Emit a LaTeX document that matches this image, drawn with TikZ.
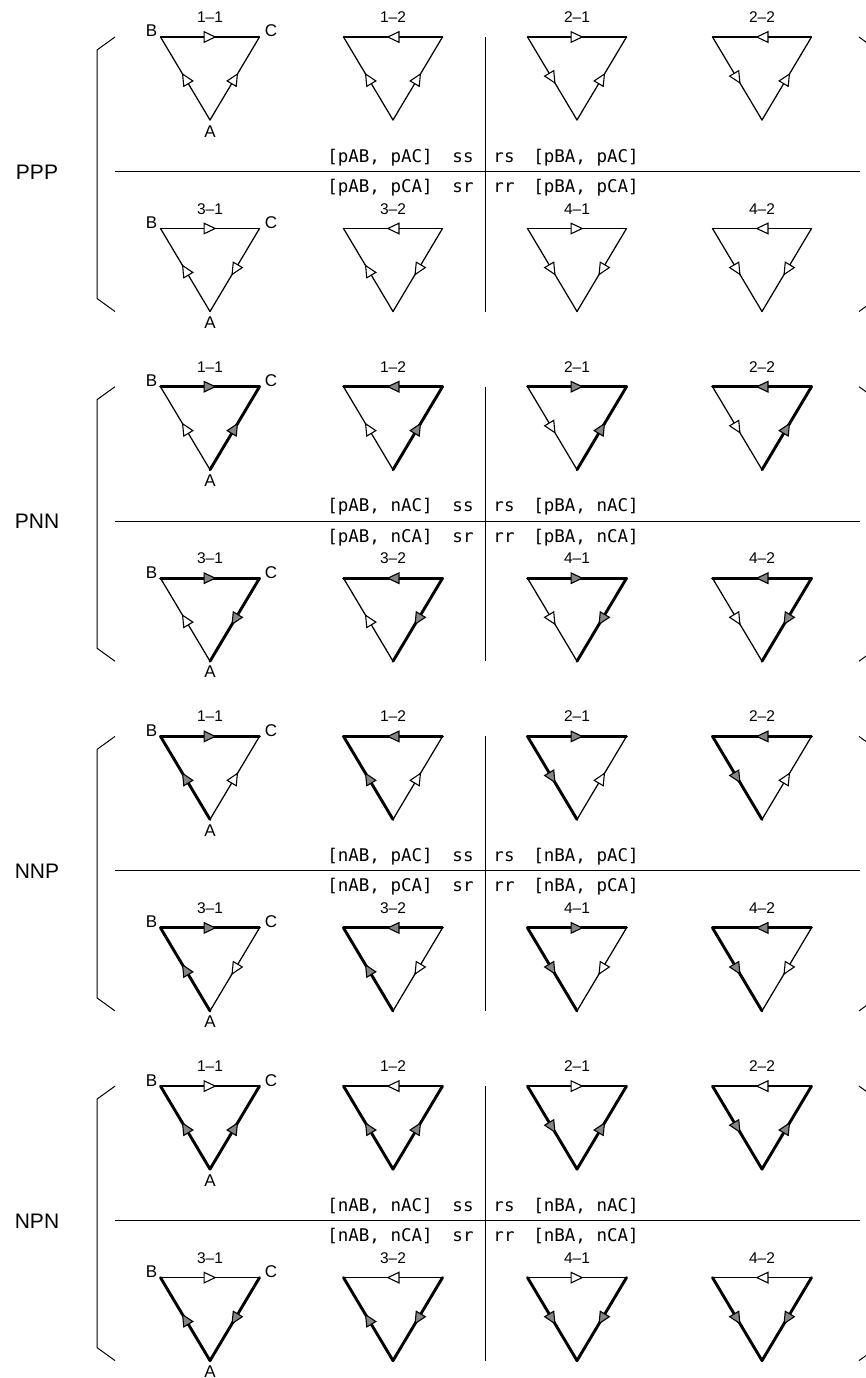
\documentclass[tikz,border=0pt]{standalone}
\usepackage{fontspec}
\setmainfont{Liberation Sans}
\newfontfamily\monof{DejaVu Sans Mono}
\usetikzlibrary{arrows.meta,decorations.markings}
\definecolor{hatch}{gray}{0.52}

\tikzset{
  % positive edge: thin line, open (white) arrowhead centred on the edge
  ep/.style={line width=1.25pt, line cap=round,
    postaction={decorate,decoration={markings,mark=at position 0.5 with
      {\pgftransformxshift{6.5pt}\arrow{Triangle[length=13pt,width=12pt,fill=white,line width=1.1pt]}}}}},
  % negative edge: heavy line, shaded arrowhead
  en/.style={line width=2.9pt, line cap=round,
    postaction={decorate,decoration={markings,mark=at position 0.5 with
      {\pgftransformxshift{6.5pt}\arrow{Triangle[length=13pt,width=12pt,fill=hatch,line width=1.1pt]}}}}},
  rule/.style={line width=1pt},
  brk/.style={line width=1pt},
  numlbl/.style={font=\fontsize{15.5}{17}\selectfont, inner sep=0, anchor=base},
  vtx/.style={font=\fontsize{17}{19}\selectfont, inner sep=0, anchor=base},
  pair/.style={font=\monof\fontsize{17.5}{20}\selectfont, inner sep=0, anchor=base},
  blk/.style={font=\fontsize{21}{24}\selectfont, inner sep=0, anchor=base},
}

% one edge: #1 polarity (p/n), #2 triangle name, #3 start vertex, #4 end vertex
\def\edgeln#1#2#3#4{\draw[e#1] (#2#3) -- (#2#4);}

% one triangle: #1 name, #2 centre x, #3 top y, #4 caption,
% #5/#6/#7 start and end vertices of the top, left and right edges
\newcommand\tri[7]{%
  \coordinate (#1B) at (#2-49.5,#3);
  \coordinate (#1C) at (#2+49.5,#3);
  \coordinate (#1A) at (#2,#3+83);
  \node[numlbl] (#1cap) at (#2,#3-14.5) {#4};
  \expandafter\edgeln\tp{#1}#5
  \expandafter\edgeln\lp{#1}#6
  \expandafter\edgeln\rp{#1}#7
}

\begin{document}
\begin{tikzpicture}[x=1pt,y=-1pt]
\useasboundingbox (0,0) rectangle (866,1378);
\clip (0,0) rectangle (866,1378);

\foreach \k/\nm/\lab/\ab/\ac/\tp/\lp/\rp in
  {0/ppp/PPP/p/p/p/p/p, 1/pnn/PNN/p/n/n/p/n, 2/nnp/NNP/n/p/n/n/p, 3/npn/NPN/n/n/p/n/n}{
  \pgfmathsetmacro\ta{37+349.7*\k}   % top of the upper row
  \pgfmathsetmacro\tb{\ta+191.5}     % top of the lower row
  \pgfmathsetmacro\hl{\ta+134.5}     % horizontal rule
  \pgfmathsetmacro\bb{\tb+83}        % bottom of the lower row

  % block name
  \node[blk] (\nm) at (37,\hl+7.5) {\lab};

  % left bracket and the edge of the right one
  \coordinate (\nm bl1) at (115,\ta);
  \coordinate (\nm bl2) at (97,\ta+13);
  \coordinate (\nm bl3) at (97,\bb-13);
  \coordinate (\nm bl4) at (115,\bb);
  \draw[brk] (\nm bl1) -- (\nm bl2) -- (\nm bl3) -- (\nm bl4);
  \coordinate (\nm br1) at (859,\ta);
  \coordinate (\nm br2) at (877,\ta+13);
  \coordinate (\nm br3) at (877,\bb-13);
  \coordinate (\nm br4) at (859,\bb);
  \draw[brk] (\nm br1) -- (\nm br2) -- (\nm br3) -- (\nm br4);

  % dividing rules
  \coordinate (\nm h1) at (115,\hl);
  \coordinate (\nm h2) at (860,\hl);
  \draw[rule] (\nm h1) -- (\nm h2);
  \coordinate (\nm v1) at (485,\ta);
  \coordinate (\nm v2) at (485,\bb);
  \draw[rule] (\nm v1) -- (\nm v2);

  % upper row
  \tri{\nm11}{210}{\ta}{1–1}{BC}{AB}{AC}
  \tri{\nm12}{393}{\ta}{1–2}{CB}{AB}{AC}
  \tri{\nm21}{577}{\ta}{2–1}{BC}{BA}{AC}
  \tri{\nm22}{762}{\ta}{2–2}{CB}{BA}{AC}
  % lower row
  \tri{\nm31}{210}{\tb}{3–1}{BC}{AB}{CA}
  \tri{\nm32}{393}{\tb}{3–2}{CB}{AB}{CA}
  \tri{\nm41}{577}{\tb}{4–1}{BC}{BA}{CA}
  \tri{\nm42}{762}{\tb}{4–2}{CB}{BA}{CA}

  % vertex letters on the first triangle of each row
  \node[vtx] (\nm11lb) at (151.5,\ta) {B};
  \node[vtx] (\nm11lc) at (271,\ta) {C};
  \node[vtx] (\nm11la) at (210,\ta+100) {A};
  \node[vtx] (\nm31lb) at (151.5,\tb) {B};
  \node[vtx] (\nm31lc) at (271,\tb) {C};
  \node[vtx] (\nm31la) at (210,\tb+99.5) {A};

  % edge-direction pairs
  \node[pair] (\nm p1) at (380,\hl-9.5) {[\ab AB, \ac AC]};
  \node[pair] (\nm p2) at (463,\hl-9.5) {ss};
  \node[pair] (\nm p3) at (504,\hl-9.5) {rs};
  \node[pair] (\nm p4) at (586,\hl-9.5) {[\ab BA, \ac AC]};
  \node[pair] (\nm p5) at (380,\hl+21) {[\ab AB, \ac CA]};
  \node[pair] (\nm p6) at (463,\hl+21) {sr};
  \node[pair] (\nm p7) at (504,\hl+21) {rr};
  \node[pair] (\nm p8) at (586,\hl+21) {[\ab BA, \ac CA]};
}
\end{tikzpicture}
\end{document}
